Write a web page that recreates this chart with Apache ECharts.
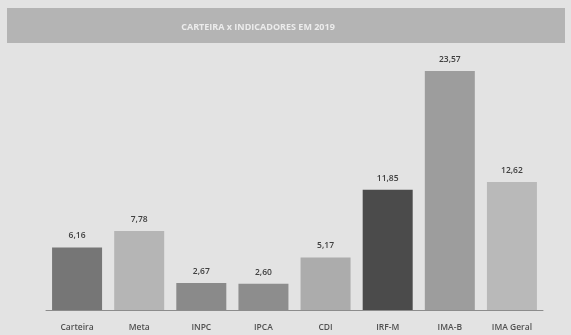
<!DOCTYPE html>
<html>
<head>
<meta charset="utf-8">
<script src="https://cdn.jsdelivr.net/npm/echarts@6/dist/echarts.min.js"></script>
<style>
  html, body { margin: 0; padding: 0; background: #e3e3e3; }
  #chart { width: 571px; height: 335px; }
</style>
</head>
<body>
<div id="chart"></div>
<script>
// Retorno acumulado em 2019 (%)
const categories = ['Carteira', 'Meta', 'INPC', 'IPCA', 'CDI', 'IRF-M', 'IMA-B', 'IMA Geral'];
const values = [6.16, 7.78, 2.67, 2.60, 5.17, 11.85, 23.57, 12.62];
const barColors = ['#767676', '#b5b5b5', '#8a8a8a', '#8d8d8d', '#acacac', '#4b4b4b', '#9d9d9d', '#b9b9b9'];

const chart = echarts.init(document.getElementById('chart'));
chart.setOption({
  backgroundColor: '#e3e3e3',
  animation: false,
  graphic: [{
    type: 'rect',
    shape: { x: 7, y: 8, width: 558, height: 35 },
    style: { fill: '#b4b4b4' },
    z: 0
  }],
  title: {
    text: 'CARTEIRA x INDICADORES EM 2019',
    left: 253,
    top: 18,
    textAlign: 'center',
    textStyle: {
      fontFamily: 'Open Sans',
      fontSize: 9,
      fontWeight: 'bold',
      color: '#ececec'
    }
  },
  grid: { left: 46, right: 28, top: 71, bottom: 25, containLabel: false },
  xAxis: {
    type: 'category',
    data: categories,
    axisLine: { lineStyle: { color: '#8c8c8c', width: 1 } },
    axisTick: { show: false },
    axisLabel: {
      fontFamily: 'Open Sans',
      fontSize: 8.5,
      fontWeight: 600,
      color: '#505050',
      margin: 13
    }
  },
  yAxis: {
    type: 'value',
    min: 0,
    max: 'dataMax',
    show: false,
    splitLine: { show: false }
  },
  series: [{
    type: 'bar',
    data: values.map((v, i) => ({ value: v, itemStyle: { color: barColors[i] } })),
    barWidth: 50,
    label: {
      show: true,
      position: 'top',
      distance: 7,
      fontFamily: 'Open Sans',
      fontSize: 8.5,
      fontWeight: 600,
      color: '#404040',
      formatter: p => p.value.toFixed(2).replace('.', ',')
    }
  }]
});
</script>
</body>
</html>
